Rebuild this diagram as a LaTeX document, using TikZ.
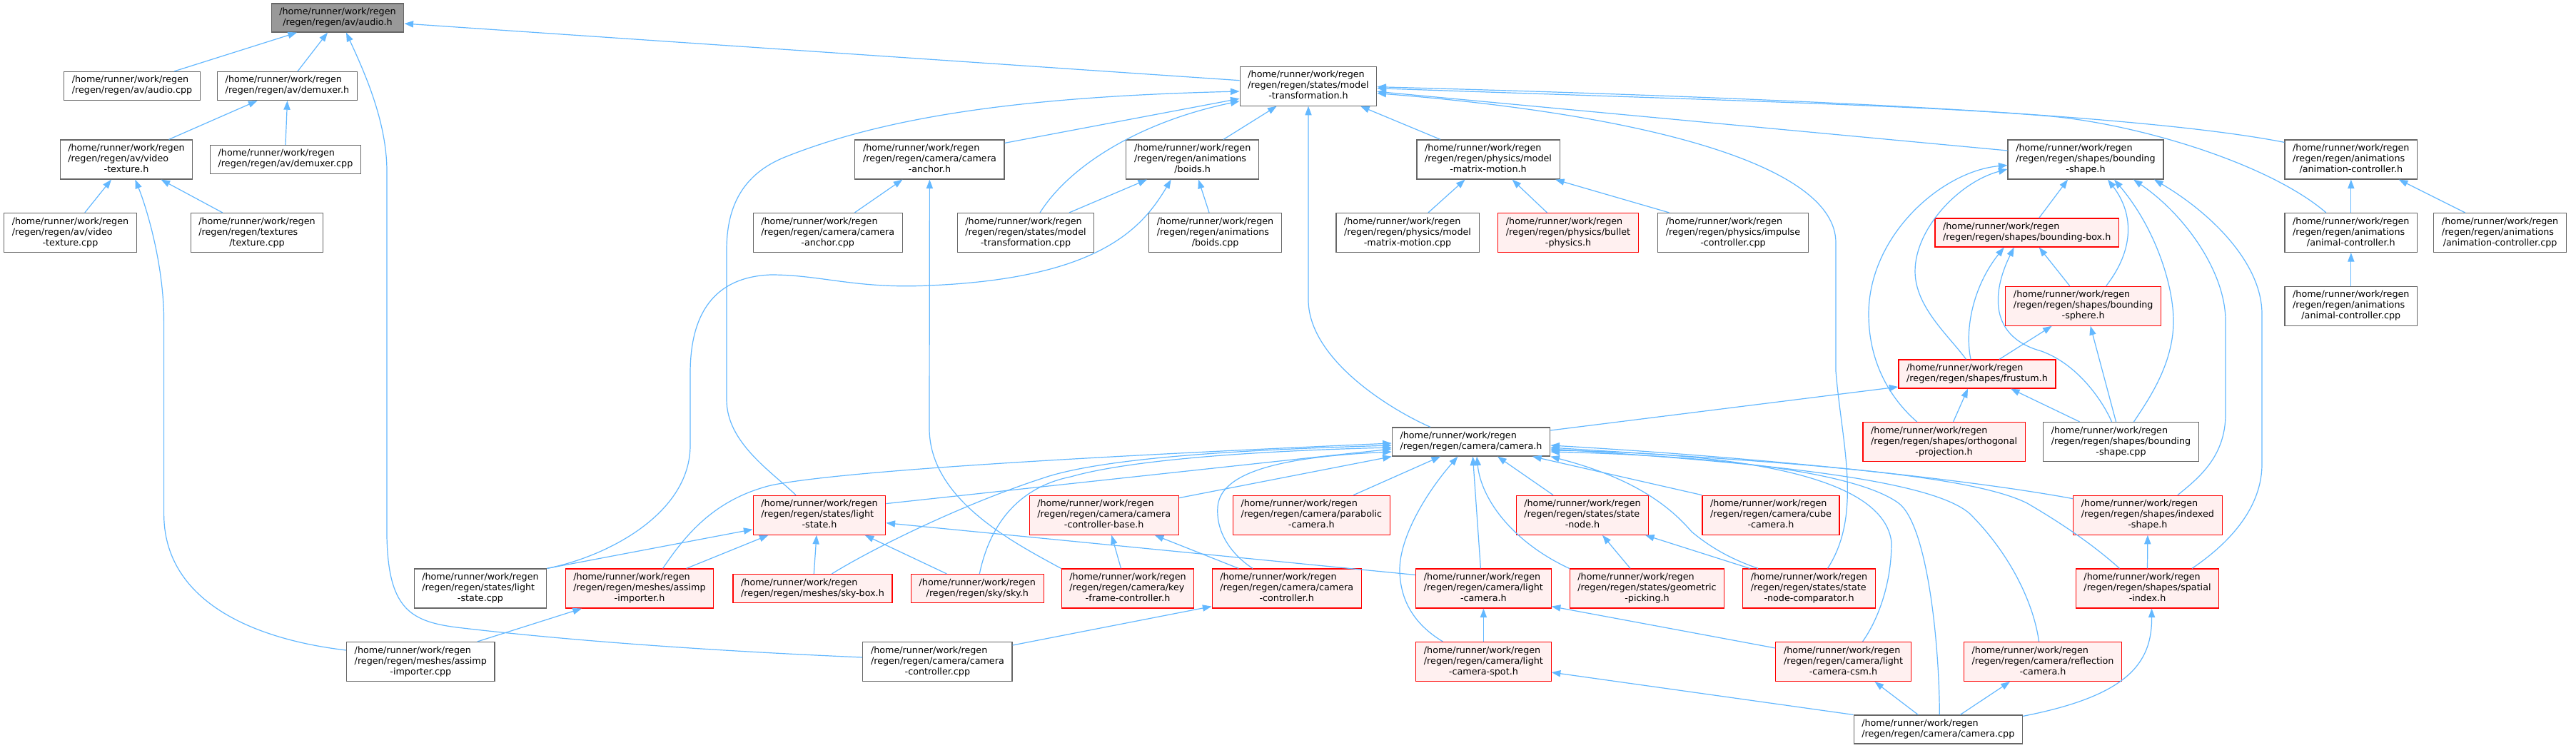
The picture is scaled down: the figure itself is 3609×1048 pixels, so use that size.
\documentclass[tikz,border=0pt]{standalone}
\usepackage{fontspec}
\setmainfont{DejaVu Sans}
\usetikzlibrary{arrows.meta,calc}
\definecolor{edgec}{HTML}{63B8FF}
\definecolor{nodeb}{HTML}{666666}
\definecolor{rootf}{HTML}{999999}
\definecolor{redf}{HTML}{FFF0F0}
\newcommand\Ltwo[1]{\begin{tabular}{@{}l@{}}/home/runner/work/regen\\\multicolumn{1}{@{}c@{}}{#1}\end{tabular}}
\newcommand\Lthree[2]{\begin{tabular}{@{}l@{}}/home/runner/work/regen\\#1\\\multicolumn{1}{@{}c@{}}{#2}\end{tabular}}
\tikzset{
  nd/.style={rectangle,draw=nodeb,fill=white,line width=0.6pt,inner xsep=5.6pt,inner ysep=2.5pt,
    font=\fontsize{6.365pt}{7.5pt}\selectfont,text=black},
  rednd/.style={nd,draw=red,fill=redf},
  rootnd/.style={nd,fill=rootf},
  edg/.style={draw=edgec,line width=0.6pt,{Triangle[length=6.3pt,width=4.6pt]}-}
}
\begin{document}
\begin{tikzpicture}[x=0.5pt,y=-0.5pt]
\fill[white] (0,0) rectangle (3609,1048);
\useasboundingbox (0,0) rectangle (3609,1048);
% rank 1
\node[rootnd] (audioh) at (473,25) {\Ltwo{/regen/regen/av/audio.h}};
% rank 2
\node[nd] (audiocpp) at (185,120.5) {\Ltwo{/regen/regen/av/audio.cpp}};
\node[nd] (demuxh) at (402.5,120.5) {\Ltwo{/regen/regen/av/demuxer.h}};
\node[nd] (mtrans) at (1833,120.7) {\Lthree{/regen/regen/states/model}{-transformation.h}};
% rank 3
\node[nd] (vtexh) at (177,223.5) {\Lthree{/regen/regen/av/video}{-texture.h}};
\node[nd] (demuxcpp) at (400,223.5) {\Ltwo{/regen/regen/av/demuxer.cpp}};
\node[nd] (camanch) at (1302.4,223.5) {\Lthree{/regen/regen/camera/camera}{-anchor.h}};
\node[nd] (boidsh) at (1670.7,223.5) {\Lthree{/regen/regen/animations}{/boids.h}};
\node[nd] (mmmh) at (2085,223.5) {\Lthree{/regen/regen/physics/model}{-matrix-motion.h}};
\node[nd] (bshapeh) at (2922,223.5) {\Lthree{/regen/regen/shapes/bounding}{-shape.h}};
\node[nd] (animch) at (3293.8,223.5) {\Lthree{/regen/regen/animations}{/animation-controller.h}};
% rank 4
\node[nd] (vtexcpp) at (98.5,326) {\Lthree{/regen/regen/av/video}{-texture.cpp}};
\node[nd] (texcpp) at (360,326) {\Lthree{/regen/regen/textures}{/texture.cpp}};
\node[nd] (camanchcpp) at (1159.7,326) {\Lthree{/regen/regen/camera/camera}{-anchor.cpp}};
\node[nd] (mtranscpp) at (1437,326) {\Lthree{/regen/regen/states/model}{-transformation.cpp}};
\node[nd] (boidscpp) at (1702.6,326) {\Lthree{/regen/regen/animations}{/boids.cpp}};
\node[nd] (mmmcpp) at (1972,326) {\Lthree{/regen/regen/physics/model}{-matrix-motion.cpp}};
\node[rednd] (bullet) at (2197,326) {\Lthree{/regen/regen/physics/bullet}{-physics.h}};
\node[nd] (impulse) at (2428,326) {\Lthree{/regen/regen/physics/impulse}{-controller.cpp}};
\node[rednd] (bbox) at (2839.7,326) {\Ltwo{/regen/regen/shapes/bounding-box.h}};
\node[nd] (animalh) at (3293.8,326) {\Lthree{/regen/regen/animations}{/animal-controller.h}};
\node[nd] (animccpp) at (3502.6,326) {\Lthree{/regen/regen/animations}{/animation-controller.cpp}};
% rank 5
\node[rednd] (bsphere) at (2918.7,428.7) {\Lthree{/regen/regen/shapes/bounding}{-sphere.h}};
\node[nd] (animalcpp) at (3293.8,428.7) {\Lthree{/regen/regen/animations}{/animal-controller.cpp}};
% rank 6
\node[rednd] (frustum) at (2770,524) {\Ltwo{/regen/regen/shapes/frustum.h}};
% rank 7
\node[nd] (camerah) at (2061,619) {\Ltwo{/regen/regen/camera/camera.h}};
\node[rednd] (ortho) at (2723.6,619) {\Lthree{/regen/regen/shapes/orthogonal}{-projection.h}};
\node[nd] (bshapecpp) at (2971.5,619) {\Lthree{/regen/regen/shapes/bounding}{-shape.cpp}};
% rank 8
\node[rednd] (lightstateh) at (1148,721.7) {\Lthree{/regen/regen/states/light}{-state.h}};
\node[rednd] (ccbase) at (1546.7,721.7) {\Lthree{/regen/regen/camera/camera}{-controller-base.h}};
\node[rednd] (parab) at (1837.3,721.7) {\Lthree{/regen/regen/camera/parabolic}{-camera.h}};
\node[rednd] (statenode) at (2217,721.7) {\Lthree{/regen/regen/states/state}{-node.h}};
\node[rednd] (cube) at (2481,721.7) {\Lthree{/regen/regen/camera/cube}{-camera.h}};
\node[rednd] (indexed) at (3008.9,721.7) {\Lthree{/regen/regen/shapes/indexed}{-shape.h}};
% rank 9
\node[nd] (lightstatecpp) at (673,824.5) {\Lthree{/regen/regen/states/light}{-state.cpp}};
\node[rednd] (assimph) at (896,824.5) {\Lthree{/regen/regen/meshes/assimp}{-importer.h}};
\node[rednd] (skybox) at (1138.5,824.5) {\Ltwo{/regen/regen/meshes/sky-box.h}};
\node[rednd] (sky) at (1369.3,824.5) {\Ltwo{/regen/regen/sky/sky.h}};
\node[rednd] (keyframe) at (1580,824.5) {\Lthree{/regen/regen/camera/key}{-frame-controller.h}};
\node[rednd] (camctrlh) at (1802.7,824.5) {\Lthree{/regen/regen/camera/camera}{-controller.h}};
\node[rednd] (lightcam) at (2078.4,824.5) {\Lthree{/regen/regen/camera/light}{-camera.h}};
\node[rednd] (geompick) at (2307.5,824.5) {\Lthree{/regen/regen/states/geometric}{-picking.h}};
\node[rednd] (snc) at (2534.5,824.5) {\Lthree{/regen/regen/states/state}{-node-comparator.h}};
\node[rednd] (spatial) at (3008.5,824.5) {\Lthree{/regen/regen/shapes/spatial}{-index.h}};
% rank 10
\node[nd] (assimpcpp) at (589.3,927) {\Lthree{/regen/regen/meshes/assimp}{-importer.cpp}};
\node[nd] (camctrlcpp) at (1313.4,927) {\Lthree{/regen/regen/camera/camera}{-controller.cpp}};
\node[rednd] (spot) at (2078.4,927) {\Lthree{/regen/regen/camera/light}{-camera-spot.h}};
\node[rednd] (csm) at (2582.5,927) {\Lthree{/regen/regen/camera/light}{-camera-csm.h}};
\node[rednd] (reflect) at (2862,927) {\Lthree{/regen/regen/camera/reflection}{-camera.h}};
% rank 11
\node[nd] (cameracpp) at (2715.3,1022) {\Ltwo{/regen/regen/camera/camera.cpp}};

% ---------- edges ----------
% audio.h
\draw[edg] ($(audioh.south)+(-57,0)$) -- ($(audiocpp.north)+(59,0)$);
\draw[edg] ($(audioh.south)+(-14,0)$) -- ($(demuxh.north)+(14.5,0)$);
\draw[edg] ($(audioh.south)+(12,0)$) .. controls (510,100) and (542,170) .. (542,240) -- (542,730) .. controls (540,850) and (570,870) .. (640,879) .. controls (800,898) and (1000,912) .. ($(camctrlcpp.west)+(0,-6)$);
\draw[edg] ($(audioh.east)+(0,8)$) -- ($(mtrans.west)+(0,-8)$);
% demuxer.h
\draw[edg] ($(demuxh.south)+(-42,0)$) -- ($(vtexh.north)+(59.5,0)$);
\draw[edg] (demuxh.south) -- (demuxcpp.north);
% video-texture.h
\draw[edg] ($(vtexh.south)+(-21,0)$) -- ($(vtexcpp.north)+(20.3,0)$);
\draw[edg] ($(vtexh.south)+(48.6,0)$) -- ($(texcpp.north)+(-48.3,0)$);
\draw[edg] ($(vtexh.south)+(12.4,0)$) .. controls (205,290) and (229.6,370) .. (229.6,450) -- (229.6,720) .. controls (229.6,840) and (350,895) .. ($(assimpcpp.west)+(0,-16)$);
% model-transformation.h
\draw[edg] ($(mtrans.west)+(0,7.3)$) .. controls (1450,135) and (1250,160) .. (1100,220) .. controls (1040,244) and (1018,290) .. (1018,350) -- (1018,560) .. controls (1018,620) and (1080,660) .. ($(lightstateh.north)+(-33,0)$);
\draw[edg] ($(mtrans.west)+(0,17.5)$) -- ($(camanch.north east)+(0,5)$);
\draw[edg] ($(mtrans.west)+(0,21)$) .. controls (1600,170) and (1500,230) .. ($(mtranscpp.north)+(20,0)$);
\draw[edg] ($(mtrans.south)+(-44.4,0)$) -- ($(boidsh.north)+(43.3,0)$);
\draw[edg] (mtrans.south) -- (1833,420) .. controls (1833,500) and (1940,570) .. ($(camerah.north)+(-57,0)$);
\draw[edg] ($(mtrans.south)+(73,0)$) -- ($(mmmh.north)+(-67,0)$);
\draw[edg] ($(mtrans.east)+(0,1)$) .. controls (2500,137) and (3000,160) .. ($(animch.north west)+(0,4)$);
\draw[edg] ($(mtrans.east)+(0,3)$) .. controls (2400,140) and (2700,148) .. (2874,163) .. controls (3000,175) and (3180,230) .. ($(animalh.north)+(-35,0)$);
\draw[edg] ($(mtrans.east)+(0,7.6)$) -- ($(bshapeh.west)+(0,-12.5)$);
\draw[edg] ($(mtrans.east)+(0,10)$) .. controls (2300,160) and (2572,230) .. (2572,340) -- (2572,520) .. controls (2580,620) and (2610,720) .. ($(snc.north)+(26,0)$);
% camera-anchor.h
\draw[edg] ($(camanch.south)+(-38,0)$) -- ($(camanchcpp.north)+(37.7,0)$);
\draw[edg] (camanch.south) -- (1302,600) .. controls (1302,700) and (1420,760) .. (keyframe.north west);
% boids.h
\draw[edg] ($(boidsh.south)+(-63.7,0)$) -- ($(mtranscpp.north)+(61,0)$);
\draw[edg] ($(boidsh.south)+(8.3,0)$) -- ($(boidscpp.north)+(-8.6,0)$);
\draw[edg] ($(boidsh.south)+(-30,0)$) .. controls (1600,320) and (1540,390) .. (1302,400) .. controls (1200,405) and (1150,385) .. (1080,385) .. controls (1000,388) and (967,440) .. (967,523) -- (967,624) .. controls (967,720) and (850,780) .. (lightstatecpp.north east);
% model-matrix-motion.h
\draw[edg] ($(mmmh.south)+(-32.5,0)$) -- ($(mmmcpp.north)+(29,0)$);
\draw[edg] ($(mmmh.south)+(33.6,0)$) -- ($(bullet.north)+(-29.6,0)$);
\draw[edg] ($(mmmh.south)+(94,0)$) -- ($(impulse.north)+(-89.5,0)$);
% bounding-shape.h
\draw[edg] ($(bshapeh.west)+(0,8)$) .. controls (2720,240) and (2618,330) .. (2618,440) .. controls (2618,510) and (2650,560) .. ($(ortho.north)+(-38,0)$);
\draw[edg] ($(bshapeh.west)+(0,13.5)$) .. controls (2745,255) and (2683,320) .. (2683,380) .. controls (2683,430) and (2730,470) .. ($(frustum.north)+(-15.5,0)$);
\draw[edg] ($(bshapeh.south)+(-25,0)$) -- ($(bbox.north)+(17,0)$);
\draw[edg] ($(bshapeh.south)+(31,0)$) .. controls (2990,300) and (2990,350) .. ($(bsphere.north)+(32,0)$);
\draw[edg] ($(bshapeh.south)+(40,0)$) .. controls (3020,320) and (3045,400) .. (3045,450) .. controls (3045,510) and (3010,560) .. ($(bshapecpp.north)+(18,0)$);
\draw[edg] ($(bshapeh.south)+(67,0)$) .. controls (3060,300) and (3118,380) .. (3118,450) -- (3118,580) .. controls (3118,640) and (3080,670) .. ($(indexed.north)+(42,0)$);
\draw[edg] ($(bshapeh.south)+(96,0)$) .. controls (3100,300) and (3169,370) .. (3169,440) -- (3169,650) .. controls (3169,720) and (3110,770) .. ($(spatial.north)+(62.5,0)$);
% bounding-box.h
\draw[edg] ($(bbox.south)+(17,0)$) -- ($(bsphere.north)+(-19,0)$);
\draw[edg] ($(bbox.south)+(-32,0)$) .. controls (2765,400) and (2752,460) .. ($(frustum.north)+(-9,0)$);
\draw[edg] ($(bbox.south)+(-18,0)$) .. controls (2795,400) and (2780,470) .. (2860,492) .. controls (2910,510) and (2945,560) .. ($(bshapecpp.north)+(-13,0)$);
% animation controllers
\draw[edg] (animch.south) -- (animalh.north);
\draw[edg] ($(animch.south)+(67,0)$) -- ($(animccpp.north)+(-49,0)$);
\draw[edg] (animalh.south) -- (animalcpp.north);
% bounding-sphere.h
\draw[edg] ($(bsphere.south)+(-44,0)$) -- ($(frustum.north)+(31,0)$);
\draw[edg] ($(bsphere.south)+(10,0)$) -- ($(bshapecpp.north)+(-7,0)$);
% frustum.h
\draw[edg] ($(frustum.south)+(-13,0)$) -- ($(ortho.north)+(13,0)$);
\draw[edg] ($(frustum.south)+(47,0)$) -- ($(bshapecpp.north)+(-58,0)$);
\draw[edg] ($(frustum.west)+(0,18)$) -- ($(camerah.east)+(0,-16)$);
% camera.h, left side
\draw[edg] ($(camerah.west)+(0,2)$) .. controls (1700,632) and (1200,655) .. (1080,680) .. controls (1000,700) and (960,750) .. ($(assimph.north)+(32.6,0)$);
\draw[edg] ($(camerah.west)+(0,5)$) .. controls (1750,630) and (1560,640) .. (1470,667) .. controls (1350,705) and (1220,770) .. ($(skybox.north)+(27,0)$);
\draw[edg] ($(camerah.west)+(0,8)$) .. controls (1750,632) and (1580,645) .. (1500,668) .. controls (1440,680) and (1390,720) .. ($(sky.north)+(3,0)$);
\draw[edg] ($(camerah.west)+(0,10)$) -- ($(lightstateh.north east)+(0,12)$);
\draw[edg] ($(camerah.west)+(0,14)$) .. controls (1800,640) and (1710,660) .. (1706,710) .. controls (1703,750) and (1730,780) .. ($(camctrlh.north)+(-47.7,0)$);
\draw[edg] (camerah.south west) -- ($(ccbase.north east)+(0,4)$);
% camera.h, bottom
\draw[edg] ($(camerah.south)+(-43,0)$) -- ($(parab.north)+(59,0)$);
\draw[edg] ($(camerah.south)+(-18.6,0)$) .. controls (1990,700) and (1960,760) .. (1961,800) .. controls (1962,850) and (1990,880) .. ($(spot.north)+(-57,0)$);
\draw[edg] ($(camerah.south)+(2.4,0)$) -- ($(lightcam.north)+(-4,0)$);
\draw[edg] ($(camerah.south)+(8,0)$) .. controls (2075,700) and (2120,760) .. (geompick.north west);
\draw[edg] ($(camerah.south)+(37,0)$) -- ($(statenode.north)+(-41,0)$);
\draw[edg] ($(camerah.south)+(86,0)$) -- (cube.north west);
\draw[edg] (camerah.south east) .. controls (2290,670) and (2340,710) .. (2370,745) .. controls (2400,770) and (2430,785) .. ($(snc.north)+(-71.5,0)$);
% camera.h, right side
\draw[edg] ($(camerah.east)+(0,5)$) .. controls (2450,640) and (2750,670) .. ($(indexed.west)+(0,-23)$);
\draw[edg] ($(camerah.east)+(0,8)$) .. controls (2450,645) and (2750,660) .. (2840,705) .. controls (2900,740) and (2940,770) .. ($(spatial.north)+(-39,0)$);
\draw[edg] ($(camerah.east)+(0,10)$) .. controls (2500,650) and (2710,675) .. (2760,720) .. controls (2820,780) and (2850,850) .. ($(reflect.north)+(-5.5,0)$);
\draw[edg] ($(camerah.east)+(0,12)$) .. controls (2450,635) and (2640,670) .. (2650,760) .. controls (2650,820) and (2630,870) .. ($(csm.north)+(27,0)$);
\draw[edg] ($(camerah.east)+(0,14)$) .. controls (2450,640) and (2610,668) .. (2660,705) .. controls (2700,735) and (2717,900) .. ($(cameracpp.north)+(2,0)$);
% light-state.h
\draw[edg] ($(lightstateh.west)+(0,20)$) -- (lightstatecpp.north east);
\draw[edg] ($(lightstateh.south)+(-71.5,0)$) -- ($(assimph.north)+(65.7,0)$);
\draw[edg] ($(lightstateh.south)+(-4,0)$) -- ($(skybox.north)+(1.8,0)$);
\draw[edg] ($(lightstateh.south)+(63.7,0)$) -- ($(sky.north)+(-43,0)$);
\draw[edg] ($(lightstateh.east)+(0,11)$) -- ($(lightcam.west)+(0,-19)$);
% camera-controller-base.h
\draw[edg] ($(ccbase.south)+(10.6,0)$) -- ($(keyframe.north)+(-9.5,0)$);
\draw[edg] ($(ccbase.south)+(71,0)$) -- ($(camctrlh.north)+(-67.4,0)$);
% camera-controller.h
\draw[edg] ($(camctrlh.south west)+(0,-3)$) -- ($(camctrlcpp.east)+(0,-23)$);
% assimp-importer.h
\draw[edg] ($(assimph.south)+(-81,0)$) -- ($(assimpcpp.north)+(79.5,0)$);
% light-camera.h
\draw[edg] (lightcam.south) -- (spot.north);
\draw[edg] ($(lightcam.south east)+(0,-3)$) -- ($(csm.west)+(0,-19)$);
% light-camera-spot.h / csm
\draw[edg] ($(spot.east)+(0,15)$) -- (cameracpp.north west);
\draw[edg] ($(csm.south)+(44,0)$) -- ($(cameracpp.north)+(-28,0)$);
% state-node.h
\draw[edg] ($(statenode.south)+(28,0)$) -- ($(geompick.north)+(-23.5,0)$);
\draw[edg] ($(statenode.south)+(88,0)$) -- ($(snc.north)+(-83,0)$);
% indexed / spatial / reflection
\draw[edg] (indexed.south) -- (spatial.north);
\draw[edg] ($(spatial.south)+(6,0)$) .. controls (3015,930) and (2980,975) .. ($(cameracpp.north east)+(0,2)$);
\draw[edg] ($(reflect.south)+(-46,0)$) -- ($(cameracpp.north)+(31,0)$);
\end{tikzpicture}
\end{document}
